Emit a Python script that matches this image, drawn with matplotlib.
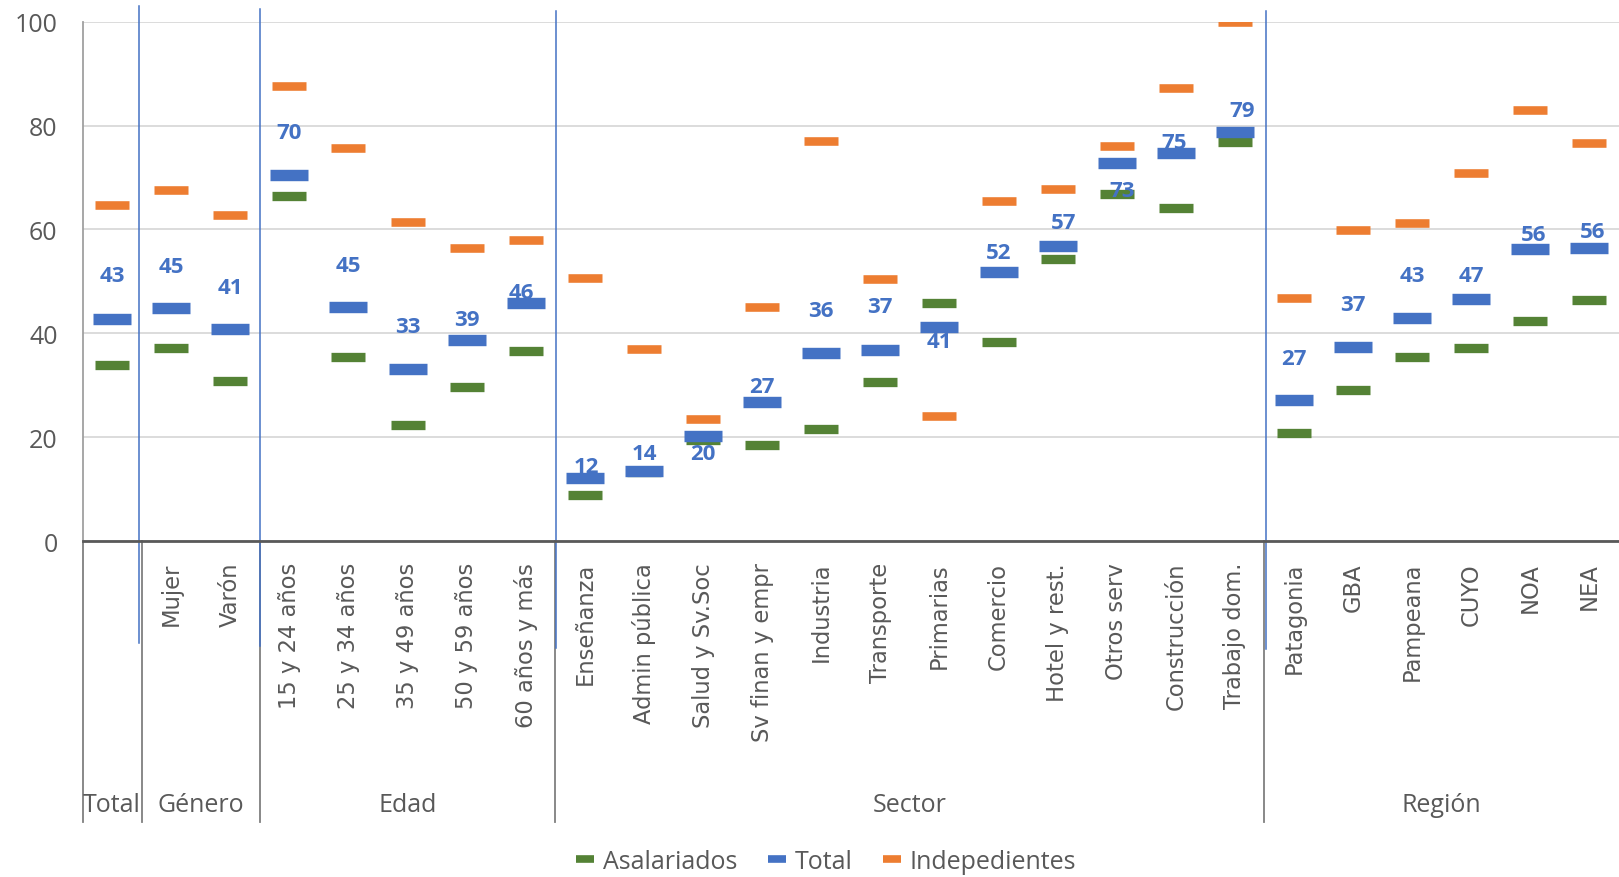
import matplotlib
matplotlib.use("Agg")
import matplotlib.pyplot as plt
from matplotlib.lines import Line2D
import numpy as np

# ── data ─────────────────────────────────────────────────────────
categories = ["Total", "Mujer", "Varón",
              "15 y 24 años", "25 y 34 años", "35 y 49 años", "50 y 59 años", "60 años y más",
              "Enseñanza", "Admin pública", "Salud y Sv.Soc", "Sv finan y empr", "Industria",
              "Transporte", "Primarias", "Comercio", "Hotel y rest.", "Otros serv",
              "Construcción", "Trabajo dom.",
              "Patagonia", "GBA", "Pampeana", "CUYO", "NOA", "NEA"]
# the Total column has no own tick label, only the group label
tick_labels = [""] + categories[1:]
groups = ["Total", "Género", "Edad", "Sector", "Región"]
group_sizes = [1, 2, 5, 12, 6]

asalariados = [33.9, 37.2, 30.8, 66.4, 35.4, 22.4, 29.7, 36.7,
               8.9, 13.4, 19.4, 18.6, 21.6, 30.7, 45.9, 38.3, 54.4, 66.8, 64.2, 76.8,
               20.9, 29.1, 35.4, 37.2, 42.3, 46.5]
total = [42.8, 44.8, 40.9, 70.4, 45.0, 33.2, 38.7, 45.8,
         12.2, 13.6, 20.2, 26.8, 36.2, 36.8, 41.3, 51.9, 56.9, 72.7, 74.8, 78.8,
         27.1, 37.4, 42.9, 46.6, 56.2, 56.4]
independientes = [64.8, 67.6, 62.7, 87.6, 75.7, 61.4, 56.4, 58.0,
                  50.7, 37.0, 23.6, 45.0, 77.0, 50.5, 24.0, 65.4, 67.7, 76.1, 87.2, 100.0,
                  46.8, 59.9, 61.2, 70.9, 83.0, 76.7]

# label offsets (points) for the Total data labels, as placed in the original
label_dy = [31, 30.5, 30, 31, 30, 30.5, 15, 7.5,
            8, 12.5, -12.5, 11, 30.5, 31, -10.5, 13.5, 16.5, -19.5, 7.5, 15.5,
            30.5, 30.5, 30.5, 17, 10.5, 12]
label_dx = [0, 0, 0, 0, 0, 0, 0, -3,
            1, 0, 0, 0, 0, 0, 0, 0, 4, 4, -1, 5,
            0, 0, 0, 0, 2, 2]

GREEN = "#548235"
BLUE = "#4472C4"
ORANGE = "#ED7D31"
GREY_TXT = "#595959"

fig = plt.figure(figsize=(16.19, 8.78), dpi=100)
ax = fig.add_axes([0.051, 0.3825, 0.949, 0.5917])

x = np.arange(len(categories))

ax.plot(x, asalariados, ls="none", marker="_", ms=25, mew=6.7, color=GREEN, zorder=3)
ax.plot(x, total, ls="none", marker="_", ms=27, mew=8.2, color=BLUE, zorder=4)
ax.plot(x, independientes, ls="none", marker="_", ms=25, mew=6.2, color=ORANGE, zorder=5)

for xi, v, dy, dx in zip(x, total, label_dy, label_dx):
    ax.annotate(f"{v:.0f}", (xi, v), xytext=(dx, dy), textcoords="offset points",
                ha="center", va="center", fontsize=16, fontweight="bold",
                color=BLUE, family="Open Sans", zorder=6)

ax.set_xlim(-0.5, len(categories) - 0.5)
ax.set_ylim(0, 100)
ax.set_yticks(range(0, 101, 20))
ax.tick_params(axis="y", length=0, pad=18, labelsize=18, labelcolor=GREY_TXT)
for lab in ax.get_yticklabels():
    lab.set_family("Open Sans")
ax.set_xticks(x)
ax.set_xticklabels(tick_labels, rotation=90, fontsize=16.3, color=GREY_TXT,
                   family="DejaVu Sans", va="top", ha="center")
ax.tick_params(axis="x", length=0, pad=15)

ax.grid(axis="y", color="#d9d9d9", lw=1.3)
ax.set_axisbelow(True)
for s in ["top", "right"]:
    ax.spines[s].set_visible(False)
ax.spines["bottom"].set_color(GREY_TXT)
ax.spines["bottom"].set_linewidth(2)
ax.spines["left"].set_color("#a0a0a0")
ax.spines["left"].set_linewidth(1.3)

# group boundaries: grey dividers below the axis, blue separators through the plot
trans = ax.get_xaxis_transform()
bounds = np.cumsum(group_sizes) - 0.5
starts = np.concatenate([[-0.5], bounds[:-1]])
for b in starts:
    ax.plot([b, b], [0, -0.54], transform=trans, color="#7f7f7f", lw=1.3, clip_on=False)
blue_shift = [-0.05, 0, 0.02, 0.02]
blue_tops = [1.03, 1.025, 1.02, 1.02]
blue_bottoms = [-0.196, -0.201, -0.206, -0.208]
for b, sh, t, bt in zip(bounds[:-1], blue_shift, blue_tops, blue_bottoms):
    ax.plot([b + sh, b + sh], [bt, t], transform=trans, color=BLUE, lw=1.1,
            clip_on=False, zorder=2)

for g, s, e in zip(groups, starts, bounds):
    ax.text((s + e) / 2, -0.506, g, transform=trans, ha="center", va="center",
            fontsize=18, color=GREY_TXT, family="Open Sans")

handles = [Line2D([], [], ls="none", marker="_", ms=13, mew=5.5, color=c)
           for c in [GREEN, BLUE, ORANGE]]
fig.legend(handles, ["Asalariados", "Total", "Indepedientes"], loc="center",
           bbox_to_anchor=(0.51, 0.018), ncol=3, frameon=False,
           prop={"family": "Open Sans", "size": 18}, labelcolor=GREY_TXT,
           handlelength=0.8, handletextpad=0.3, columnspacing=1.2)

plt.savefig("out.png", dpi=100)
